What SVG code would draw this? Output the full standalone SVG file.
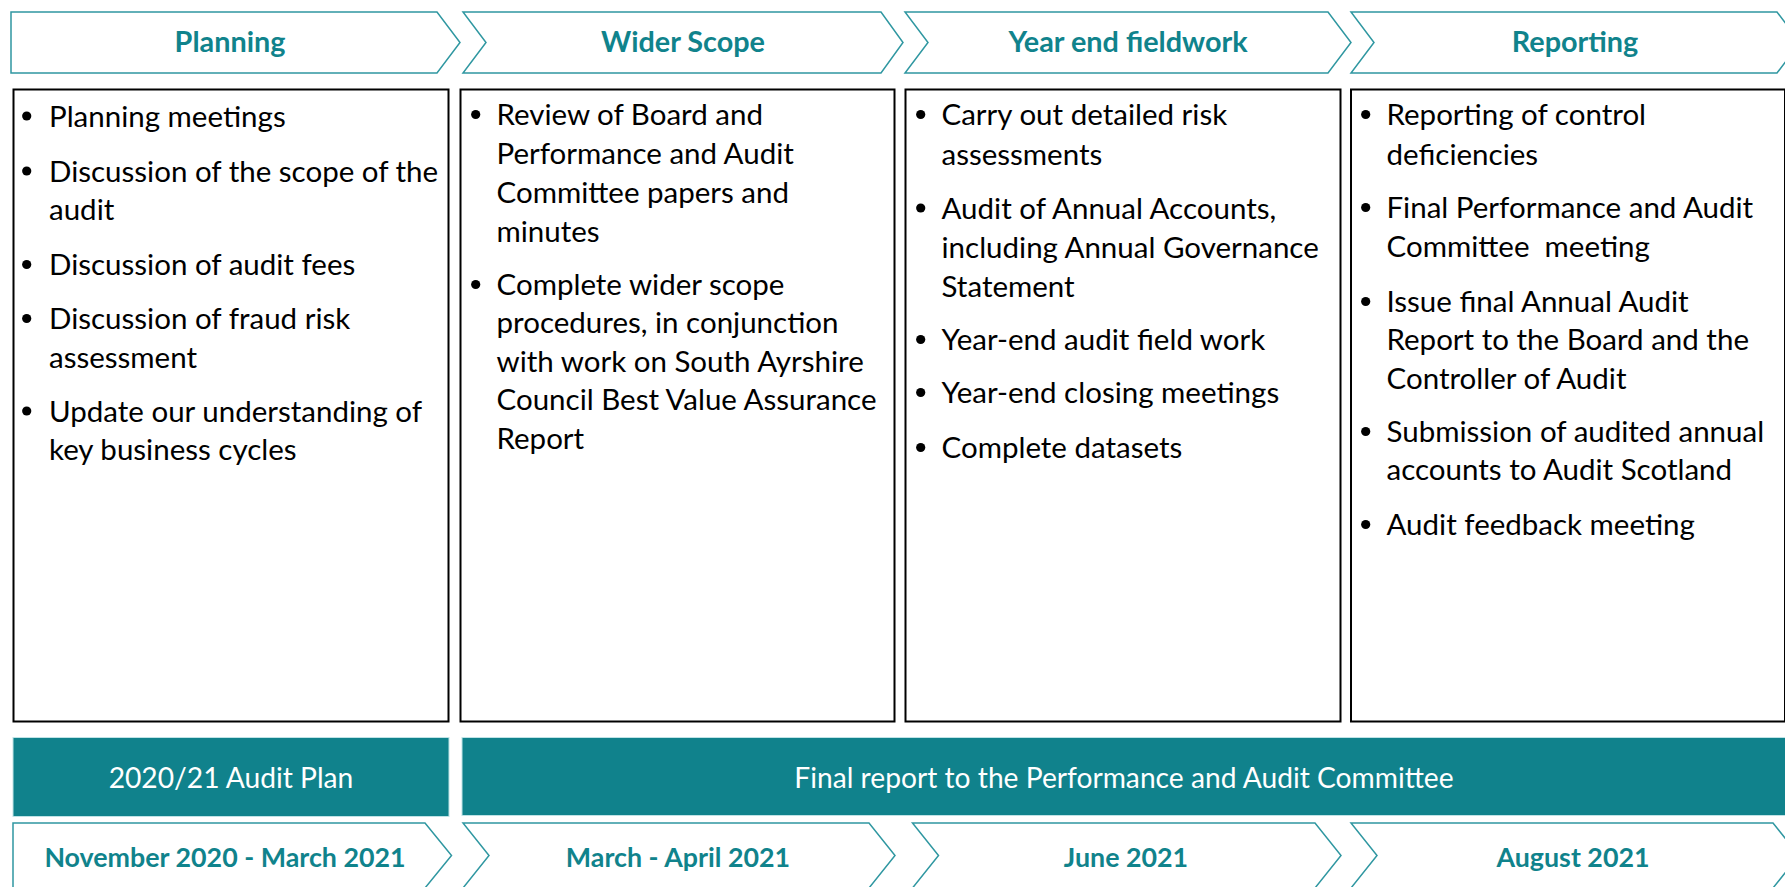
<svg xmlns="http://www.w3.org/2000/svg" width="1785" height="887" viewBox="0 0 1785 887">
  <style>
    .chev { fill: #ffffff; stroke: #2f97a1; stroke-width: 1.5; }
    .box { fill: #ffffff; stroke: #000000; stroke-width: 2; }
    .bar { fill: #10828c; stroke: #bfe3e6; stroke-width: 1; }
    .head { font-family: Lato, "Noto Sans", sans-serif; font-weight: 700; font-size: 28.8px; fill: #10838c; text-anchor: middle; }
    .period { font-size: 26.8px; }
    .item { font-family: Lato, "Noto Sans", sans-serif; font-size: 29.5px; fill: #000000; }
    .barText { font-family: Lato, "Noto Sans", sans-serif; font-size: 28.2px; fill: #ffffff; text-anchor: middle; }
    .dot { fill: #000000; }
  </style>

  <rect width="1785" height="887" fill="#ffffff"/>

  <!-- Phase headers -->
  <g id="phase-planning">
    <polygon class="chev" points="11,12 437,12 460,42.5 437,73 11,73"/>
    <text class="head" x="230" y="52">Planning</text>
  </g>
  <g id="phase-wider-scope">
    <polygon class="chev" points="463,12 881,12 903,42.5 881,73 463,73 486,42.5"/>
    <text class="head" x="683" y="52">Wider Scope</text>
  </g>
  <g id="phase-year-end">
    <polygon class="chev" points="905,12 1328,12 1351,42.5 1328,73 905,73 928,42.5"/>
    <text class="head" x="1128" y="52">Year end fieldwork</text>
  </g>
  <g id="phase-reporting">
    <polygon class="chev" points="1351,12 1777,12 1800,42.5 1777,73 1351,73 1374,42.5"/>
    <text class="head" x="1575" y="52">Reporting</text>
  </g>

  <!-- Activity lists -->
  <g id="list-planning">
    <rect class="box" x="13.5" y="89.5" width="435" height="632"/>
    <circle class="dot" cx="26.7" cy="116" r="4.6"/>
    <text class="item" x="49" y="127">Planning meetings</text>
    <circle class="dot" cx="26.7" cy="171" r="4.6"/>
    <text class="item" x="49" y="181.5">Discussion of the scope of the</text>
    <text class="item" x="49" y="220">audit</text>
    <circle class="dot" cx="26.7" cy="264.5" r="4.6"/>
    <text class="item" x="49" y="275">Discussion of audit fees</text>
    <circle class="dot" cx="26.7" cy="318.5" r="4.6"/>
    <text class="item" x="49" y="329">Discussion of fraud risk</text>
    <text class="item" x="49" y="367.5">assessment</text>
    <circle class="dot" cx="26.7" cy="411" r="4.6"/>
    <text class="item" x="49" y="421.5">Update our understanding of</text>
    <text class="item" x="49" y="460">key business cycles</text>
  </g>

  <g id="list-wider-scope">
    <rect class="box" x="460.5" y="89.5" width="434" height="632"/>
    <circle class="dot" cx="475.7" cy="114.5" r="4.6"/>
    <text class="item" x="496.5" y="125">Review of Board and</text>
    <text class="item" x="496.5" y="164">Performance and Audit</text>
    <text class="item" x="496.5" y="203">Committee papers and</text>
    <text class="item" x="496.5" y="241.5">minutes</text>
    <circle class="dot" cx="475.7" cy="284.5" r="4.6"/>
    <text class="item" x="496.5" y="295">Complete wider scope</text>
    <text class="item" x="496.5" y="333">procedures, in conjunction</text>
    <text class="item" x="496.5" y="371.5">with work on South Ayrshire</text>
    <text class="item" x="496.5" y="410">Council Best Value Assurance</text>
    <text class="item" x="496.5" y="448.5">Report</text>
  </g>

  <g id="list-year-end">
    <rect class="box" x="905.5" y="89.5" width="435" height="632"/>
    <circle class="dot" cx="920.7" cy="114.5" r="4.6"/>
    <text class="item" x="941.5" y="125">Carry out detailed risk</text>
    <text class="item" x="941.5" y="165">assessments</text>
    <circle class="dot" cx="920.7" cy="208" r="4.6"/>
    <text class="item" x="941.5" y="218.5">Audit of Annual Accounts,</text>
    <text class="item" x="941.5" y="258">including Annual Governance</text>
    <text class="item" x="941.5" y="296.5">Statement</text>
    <circle class="dot" cx="920.7" cy="339.5" r="4.6"/>
    <text class="item" x="941.5" y="350">Year-end audit field work</text>
    <circle class="dot" cx="920.7" cy="392.5" r="4.6"/>
    <text class="item" x="941.5" y="403">Year-end closing meetings</text>
    <circle class="dot" cx="920.7" cy="447.5" r="4.6"/>
    <text class="item" x="941.5" y="458">Complete datasets</text>
  </g>

  <g id="list-reporting">
    <rect class="box" x="1351" y="89.5" width="434" height="632"/>
    <circle class="dot" cx="1365.7" cy="114.5" r="4.6"/>
    <text class="item" x="1386.5" y="125">Reporting of control</text>
    <text class="item" x="1386.5" y="165">deficiencies</text>
    <circle class="dot" cx="1365.7" cy="207.5" r="4.6"/>
    <text class="item" x="1386.5" y="218">Final Performance and Audit</text>
    <text class="item" x="1386.5" y="257" xml:space="preserve">Committee  meeting</text>
    <circle class="dot" cx="1365.7" cy="301.5" r="4.6"/>
    <text class="item" x="1386.5" y="312">Issue final Annual Audit</text>
    <text class="item" x="1386.5" y="350">Report to the Board and the</text>
    <text class="item" x="1386.5" y="388.5">Controller of Audit</text>
    <circle class="dot" cx="1365.7" cy="431.5" r="4.6"/>
    <text class="item" x="1386.5" y="442">Submission of audited annual</text>
    <text class="item" x="1386.5" y="480">accounts to Audit Scotland</text>
    <circle class="dot" cx="1365.7" cy="524.5" r="4.6"/>
    <text class="item" x="1386.5" y="535">Audit feedback meeting</text>
  </g>

  <!-- Reporting milestones -->
  <g id="milestone-audit-plan">
    <rect class="bar" x="13" y="737.5" width="436" height="79"/>
    <text class="barText" x="231" y="788">2020/21 Audit Plan</text>
  </g>
  <g id="milestone-final-report">
    <rect class="bar" x="462" y="737.5" width="1330" height="78"/>
    <text class="barText" x="1124" y="788">Final report to the Performance and Audit Committee</text>
  </g>

  <!-- Timeline -->
  <g id="period-nov-mar">
    <polygon class="chev" points="13,823 425,823 451.5,855.5 425,888 13,888"/>
    <text class="head period" x="225" y="866.5">November 2020 - March 2021</text>
  </g>
  <g id="period-mar-apr">
    <polygon class="chev" points="463,823 869,823 895,855.5 869,888 463,888 489,855.5"/>
    <text class="head period" x="678" y="866.5">March - April 2021</text>
  </g>
  <g id="period-june">
    <polygon class="chev" points="912.5,823 1315,823 1341,855.5 1315,888 912.5,888 938.5,855.5"/>
    <text class="head period" x="1126" y="866.5">June 2021</text>
  </g>
  <g id="period-august">
    <polygon class="chev" points="1351,823 1773,823 1799,855.5 1773,888 1351,888 1377,855.5"/>
    <text class="head period" x="1573" y="866.5">August 2021</text>
  </g>

  <!-- No connectors: the phases are linked by the chevron shapes themselves -->
  <g id="connectors"/>
</svg>
